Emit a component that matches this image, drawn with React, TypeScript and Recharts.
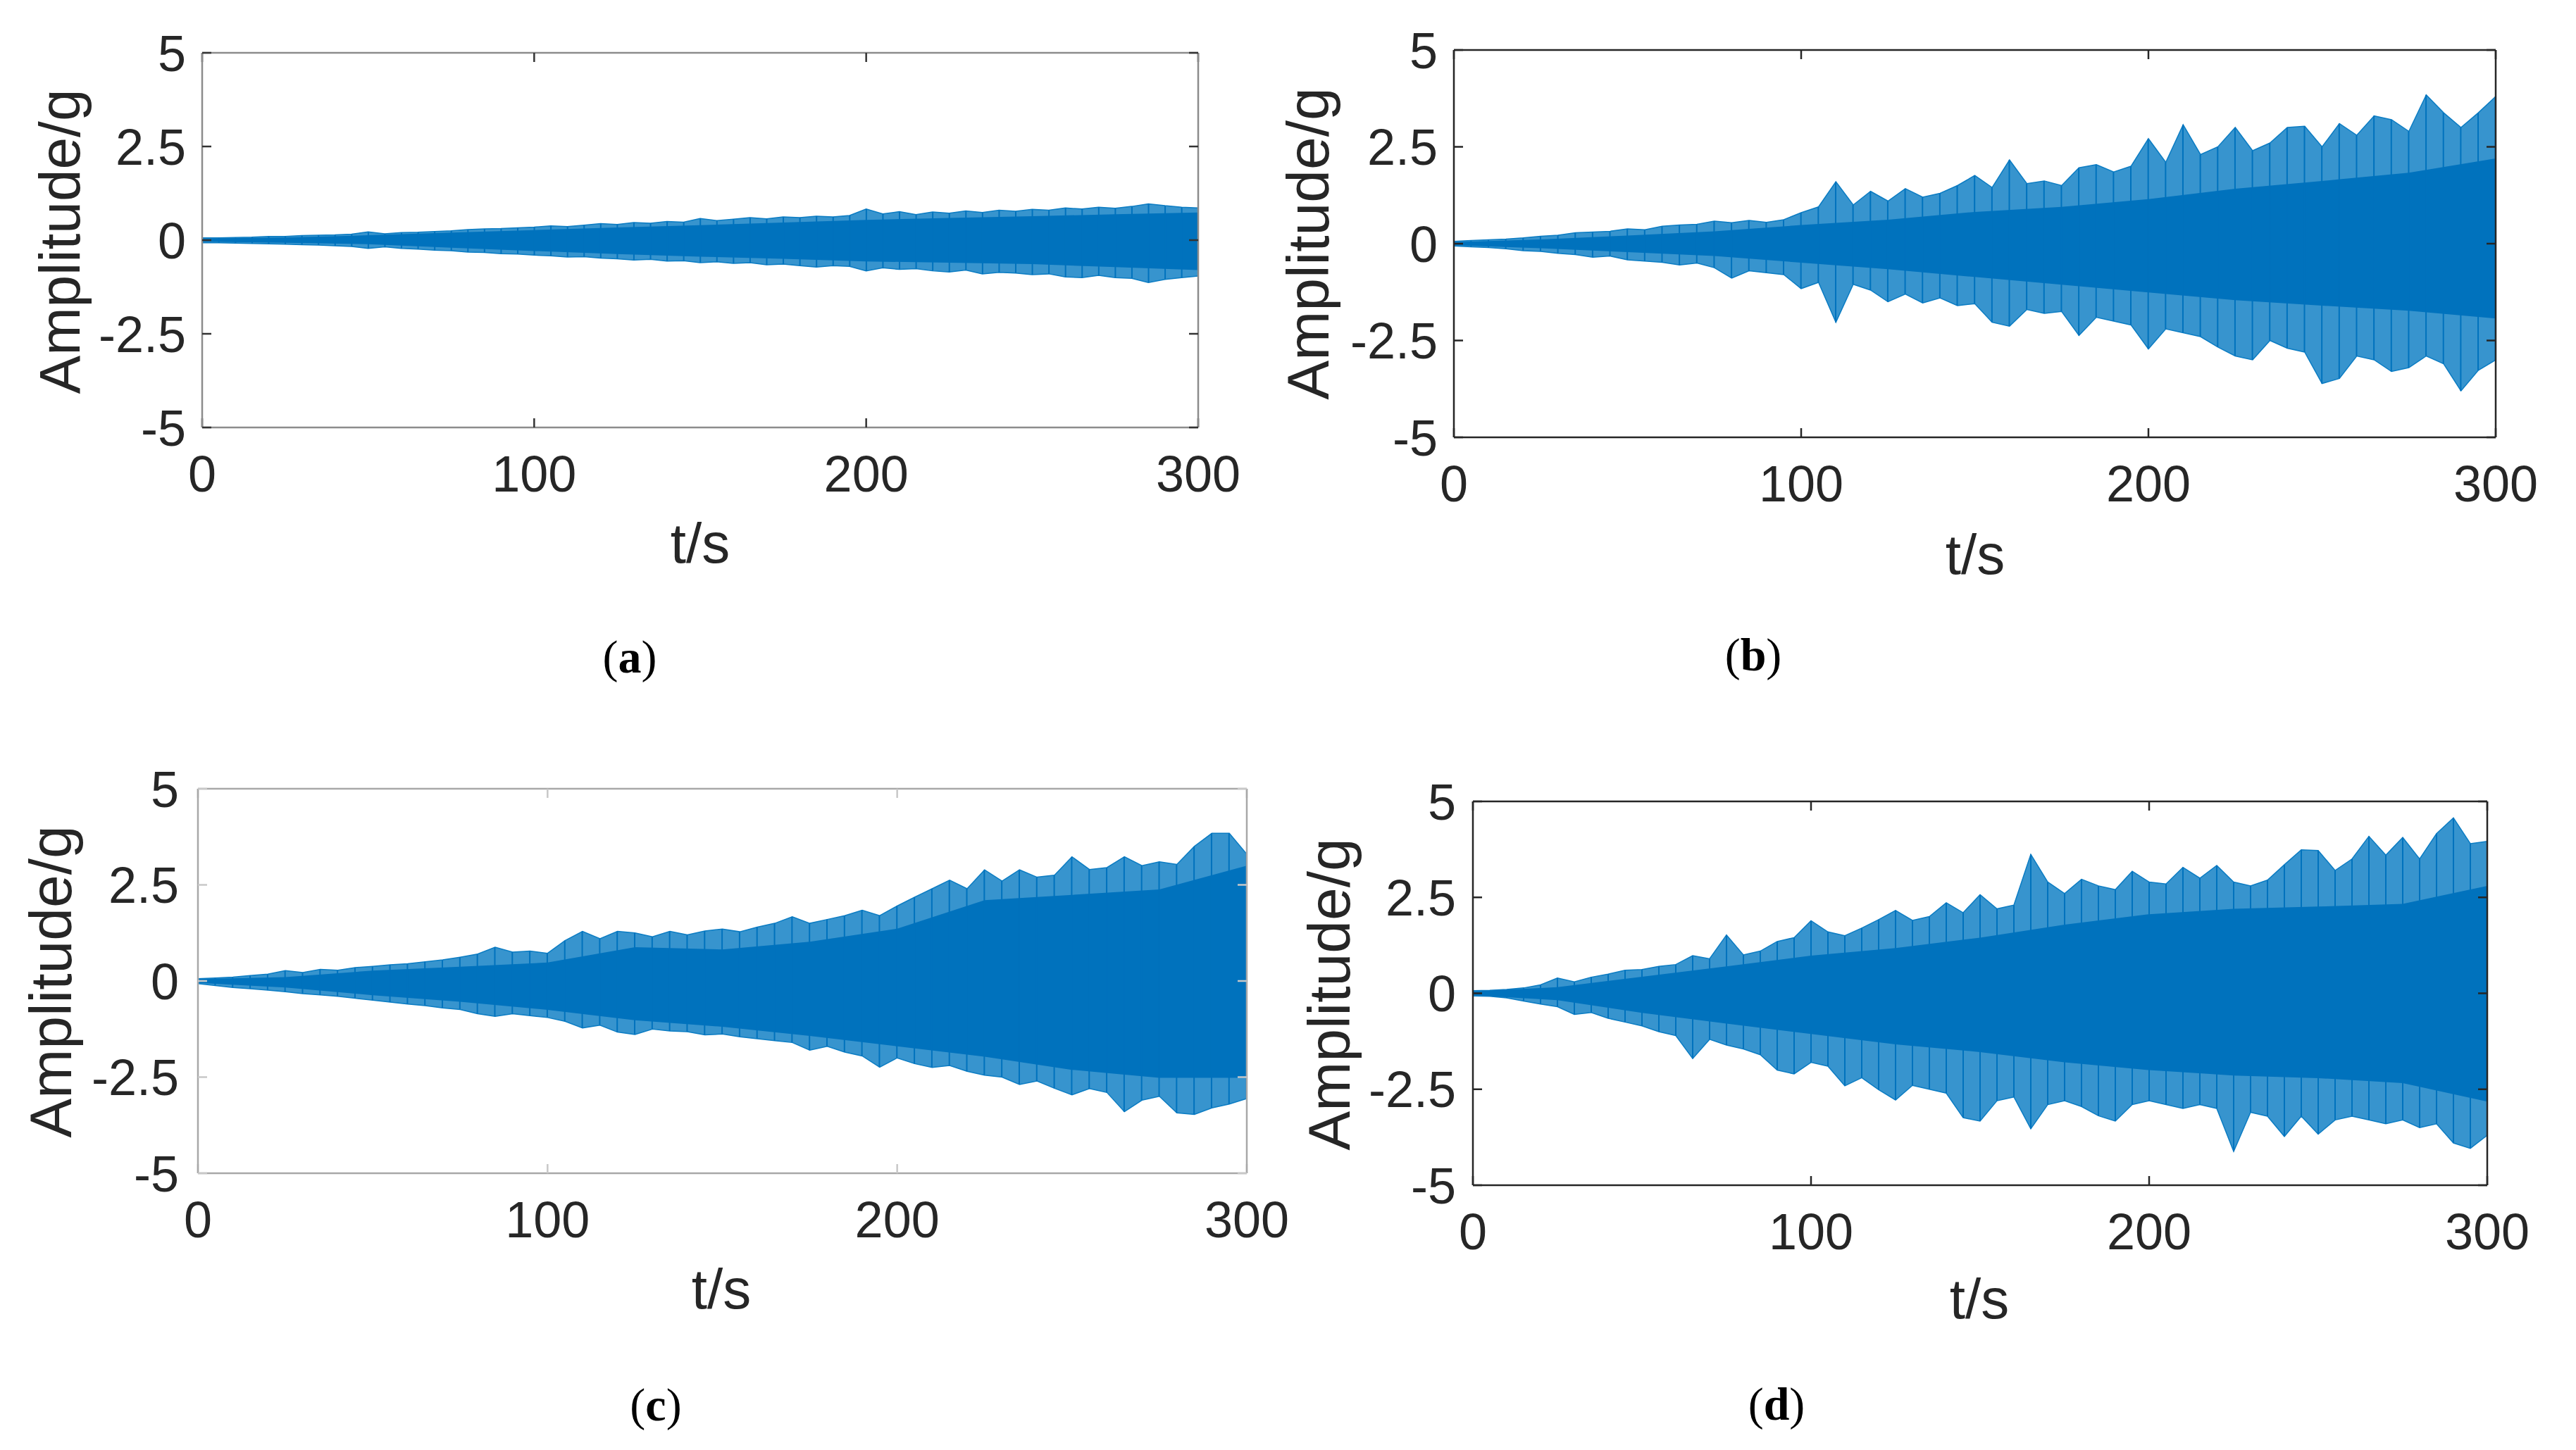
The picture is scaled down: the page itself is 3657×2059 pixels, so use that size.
import React from "react";
import { ComposedChart, Area, Bar, XAxis, YAxis } from "recharts";

// time grid (s): envelope every 25 s, peak spikes every 5 s
const T_CORE = [0, 25, 50, 75, 100, 125, 150, 175, 200, 225, 250, 275, 300];
const T_SPIKE = [
  0, 5, 10, 15, 20, 25, 30, 35, 40, 45, 50, 55, 60, 65, 70, 75, 80, 85, 90, 95,
  100, 105, 110, 115, 120, 125, 130, 135, 140, 145, 150, 155, 160, 165, 170, 175,
  180, 185, 190, 195, 200, 205, 210, 215, 220, 225, 230, 235, 240, 245, 250, 255,
  260, 265, 270, 275, 280, 285, 290, 295, 300,
];
const X_TICKS = [0, 100, 200, 300];
const Y_TICKS = [-5, -2.5, 0, 2.5, 5];

// (a)
const A_CORE_HI = [0.04, 0.07, 0.13, 0.2, 0.27, 0.34, 0.4, 0.47, 0.54, 0.59, 0.64, 0.69, 0.74];
const A_CORE_LO = [-0.04, -0.07, -0.11, -0.2, -0.29, -0.37, -0.44, -0.5, -0.57, -0.6, -0.64, -0.72, -0.8];
const A_SPIKE_HI = [
  0.06, 0.06, 0.07, 0.08, 0.1, 0.1, 0.12, 0.13, 0.14, 0.16,
  0.22, 0.17, 0.2, 0.21, 0.23, 0.25, 0.28, 0.3, 0.31, 0.33,
  0.35, 0.38, 0.36, 0.4, 0.44, 0.42, 0.47, 0.45, 0.5, 0.48,
  0.58, 0.52, 0.56, 0.6, 0.57, 0.62, 0.6, 0.64, 0.62, 0.66,
  0.83, 0.7, 0.76, 0.68, 0.75, 0.72, 0.78, 0.74, 0.8, 0.77,
  0.82, 0.8, 0.86, 0.83, 0.88, 0.85, 0.9, 0.97, 0.92, 0.88, 0.86,
];
const A_SPIKE_LO = [
  -0.07, -0.07, -0.08, -0.09, -0.1, -0.11, -0.12, -0.13, -0.15, -0.17,
  -0.22, -0.18, -0.22, -0.24, -0.27, -0.28, -0.32, -0.33, -0.36, -0.37,
  -0.4, -0.42, -0.45, -0.44, -0.48, -0.5, -0.53, -0.51, -0.56, -0.55,
  -0.6, -0.58, -0.62, -0.6, -0.66, -0.64, -0.68, -0.72, -0.68, -0.7,
  -0.82, -0.74, -0.78, -0.76, -0.82, -0.85, -0.8, -0.9, -0.86, -0.88,
  -0.92, -0.9, -0.98, -1.0, -0.94, -1.0, -1.02, -1.13, -1.05, -1.0, -0.96,
];

// (b)
const B_CORE_HI = [0.04, 0.11, 0.21, 0.32, 0.48, 0.62, 0.82, 0.95, 1.15, 1.42, 1.62, 1.83, 2.2];
const B_CORE_LO = [-0.04, -0.12, -0.22, -0.32, -0.49, -0.66, -0.86, -1.06, -1.26, -1.46, -1.6, -1.73, -1.93];
const B_SPIKE_HI = [
  0.06, 0.08, 0.1, 0.12, 0.15, 0.19, 0.22, 0.28, 0.3, 0.32,
  0.38, 0.36, 0.45, 0.48, 0.5, 0.58, 0.54, 0.6, 0.55, 0.62,
  0.8, 0.95, 1.6, 1.0, 1.35, 1.1, 1.42, 1.2, 1.3, 1.5,
  1.76, 1.45, 2.16, 1.55, 1.62, 1.5, 1.96, 2.04, 1.85, 2.0,
  2.71, 2.1, 3.07, 2.3, 2.5, 3.0, 2.4, 2.6, 3.0, 3.03,
  2.5, 3.1, 2.8, 3.3, 3.2, 2.9, 3.84, 3.38, 3.0, 3.38, 3.8,
];
const B_SPIKE_LO = [
  -0.06, -0.08, -0.1, -0.13, -0.18, -0.2, -0.25, -0.28, -0.35, -0.32,
  -0.42, -0.45, -0.48, -0.55, -0.5, -0.62, -0.89, -0.7, -0.75, -0.8,
  -1.16, -1.0, -2.03, -1.05, -1.2, -1.5, -1.3, -1.53, -1.4, -1.6,
  -1.55, -2.03, -2.13, -1.7, -1.8, -1.75, -2.37, -1.9, -2.0, -2.1,
  -2.72, -2.2, -2.3, -2.4, -2.67, -2.9, -3.0, -2.5, -2.7, -2.8,
  -3.61, -3.48, -2.9, -3.0, -3.3, -3.2, -2.9, -3.1, -3.8, -3.27, -3.0,
];

// (c)
const C_CORE_HI = [0.05, 0.1, 0.27, 0.37, 0.48, 0.88, 0.82, 1.02, 1.36, 2.1, 2.24, 2.38, 3.0];
const C_CORE_LO = [-0.05, -0.17, -0.37, -0.54, -0.75, -1.02, -1.19, -1.43, -1.7, -1.97, -2.31, -2.52, -2.52];
const C_SPIKE_HI = [
  0.06, 0.08, 0.1, 0.14, 0.18, 0.27, 0.22, 0.3, 0.28, 0.35,
  0.38, 0.42, 0.45, 0.5, 0.55, 0.62, 0.7, 0.88, 0.75, 0.78,
  0.72, 1.05, 1.29, 1.1, 1.29, 1.25, 1.15, 1.29, 1.2, 1.3,
  1.35, 1.28, 1.4, 1.5, 1.67, 1.5, 1.6, 1.7, 1.84, 1.7,
  1.95, 2.18, 2.4, 2.62, 2.4, 2.89, 2.6, 2.89, 2.7, 2.75,
  3.23, 2.9, 2.95, 3.23, 3.0, 3.1, 3.03, 3.5, 3.84, 3.84, 3.3,
];
const C_SPIKE_LO = [
  -0.07, -0.12, -0.17, -0.2, -0.24, -0.28, -0.33, -0.36, -0.4, -0.45,
  -0.5, -0.55, -0.6, -0.64, -0.7, -0.74, -0.85, -0.92, -0.85, -0.9,
  -0.95, -1.05, -1.22, -1.15, -1.33, -1.39, -1.25, -1.3, -1.32, -1.4,
  -1.38, -1.45, -1.5, -1.55, -1.6, -1.8, -1.7, -1.85, -1.95, -2.24,
  -2.0, -2.15, -2.25, -2.2, -2.35, -2.45, -2.5, -2.69, -2.6, -2.79,
  -2.96, -2.8, -2.9, -3.4, -3.1, -3.0, -3.43, -3.47, -3.3, -3.2, -3.06,
];

// (d)
const D_CORE_HI = [0.05, 0.16, 0.43, 0.7, 0.98, 1.18, 1.45, 1.79, 2.06, 2.2, 2.26, 2.33, 2.8];
const D_CORE_LO = [-0.05, -0.18, -0.51, -0.79, -1.06, -1.33, -1.53, -1.8, -2.0, -2.14, -2.21, -2.34, -2.82];
const D_SPIKE_HI = [
  0.07, 0.08, 0.1, 0.14, 0.22, 0.4, 0.3, 0.42, 0.5, 0.6,
  0.62, 0.7, 0.75, 0.98, 0.9, 1.52, 1.0, 1.1, 1.35, 1.45,
  1.89, 1.6, 1.5, 1.7, 1.92, 2.16, 1.9, 2.0, 2.36, 2.1,
  2.57, 2.2, 2.3, 3.62, 2.9, 2.6, 2.97, 2.8, 2.7, 3.18,
  2.9, 2.85, 3.28, 3.0, 3.33, 2.9, 2.8, 2.95, 3.35, 3.74,
  3.72, 3.2, 3.5, 4.09, 3.6, 4.06, 3.5, 4.16, 4.57, 3.9, 3.96,
];
const D_SPIKE_LO = [
  -0.07, -0.08, -0.12, -0.2, -0.28, -0.35, -0.55, -0.5, -0.65, -0.75,
  -0.85, -1.0, -1.1, -1.7, -1.2, -1.35, -1.45, -1.6, -2.0, -2.1,
  -1.8, -1.9, -2.41, -2.2, -2.51, -2.78, -2.4, -2.5, -2.6, -3.24,
  -3.33, -2.8, -2.7, -3.53, -2.9, -2.8, -2.95, -3.19, -3.33, -2.9,
  -2.8, -2.9, -3.0, -2.9, -3.0, -4.12, -3.1, -3.2, -3.73, -3.2,
  -3.67, -3.3, -3.2, -3.3, -3.4, -3.3, -3.5, -3.4, -3.9, -4.04, -3.7,
];

const SIGNAL = "#0072BD";
const FRINGE = "#0b7cc3";
const TEXT = "#262626";
const FONT = "'Liberation Sans', Arial, Helvetica, sans-serif";
const SERIF = "'Liberation Serif', 'Times New Roman', serif";

// chart frame around each plot box
const YW = 200;
const MT = 60;
const MR = 90;
const XH = 130;

const PANELS = [
  {
    id: "a",
    box: { x: 287, y: 75, w: 1414, h: 532 },
    coreHi: A_CORE_HI, coreLo: A_CORE_LO, spikeHi: A_SPIKE_HI, spikeLo: A_SPIKE_LO,
    axis: "#8c8c8c", tickColor: "#333333", yGap: 23,
    yLabel: { x: 85, y: 343, fs: 82 }, xLabel: { x: 994, y: 772 }, cap: { x: 894, y: 933 },
  },
  {
    id: "b",
    box: { x: 2064, y: 71, w: 1479, h: 550 },
    coreHi: B_CORE_HI, coreLo: B_CORE_LO, spikeHi: B_SPIKE_HI, spikeLo: B_SPIKE_LO,
    axis: "#262626", tickColor: "#262626", yGap: 23,
    yLabel: { x: 1857, y: 346, fs: 84 }, xLabel: { x: 2804, y: 788 }, cap: { x: 2489, y: 930 },
  },
  {
    id: "c",
    box: { x: 281, y: 1120, w: 1489, h: 546 },
    coreHi: C_CORE_HI, coreLo: C_CORE_LO, spikeHi: C_SPIKE_HI, spikeLo: C_SPIKE_LO,
    axis: "#a8a8a8", tickColor: "#c8c8c8", yGap: 27,
    yLabel: { x: 72, y: 1394, fs: 84 }, xLabel: { x: 1024, y: 1831 }, cap: { x: 931, y: 1995 },
  },
  {
    id: "d",
    box: { x: 2091, y: 1138, w: 1440, h: 545 },
    coreHi: D_CORE_HI, coreLo: D_CORE_LO, spikeHi: D_SPIKE_HI, spikeLo: D_SPIKE_LO,
    axis: "#262626", tickColor: "#262626", yGap: 24,
    yLabel: { x: 1887, y: 1412, fs: 84 }, xLabel: { x: 2810, y: 1845 }, cap: { x: 2522, y: 1994 },
  },
];

function Panel({ p }: { p: (typeof PANELS)[number] }) {
  const core = T_CORE.map((t, i) => ({ t, core: [p.coreLo[i], p.coreHi[i]] }));
  const spikes = T_SPIKE.map((t, i) => ({ t, spike: [p.spikeLo[i], p.spikeHi[i]] }));
  const w = YW + p.box.w + 1 + MR;
  const h = MT + 1 + p.box.h + XH;
  const line = { stroke: p.axis, strokeWidth: 2.5 };
  const tl = { stroke: p.tickColor, strokeWidth: 2.5 };
  const tickText = { fill: TEXT, fontSize: 72, fontFamily: FONT };
  const blank = () => "";

  return (
    <>
      <div style={{ position: "absolute", left: p.box.x - YW, top: p.box.y - MT - 1 }}>
        <ComposedChart
          width={w}
          height={h}
          data={spikes}
          margin={{ top: MT, right: MR, left: 0, bottom: 0 }}
        >
          <XAxis
            xAxisId="bottom"
            dataKey="t"
            type="number"
            domain={[0, 300]}
            ticks={X_TICKS}
            interval={0}
            height={XH}
            axisLine={line}
            tickLine={tl}
            tickSize={-13}
            tickMargin={53}
            tick={tickText}
            allowDataOverflow
          />
          <XAxis
            xAxisId="top"
            orientation="top"
            dataKey="t"
            type="number"
            domain={[0, 300]}
            ticks={X_TICKS}
            interval={0}
            height={1}
            axisLine={line}
            tickLine={tl}
            tickSize={-13}
            tickFormatter={blank}
            allowDataOverflow
          />
          <YAxis
            yAxisId="left"
            type="number"
            domain={[-5, 5]}
            ticks={Y_TICKS}
            interval={0}
            width={YW}
            axisLine={line}
            tickLine={tl}
            tickSize={-13}
            tickMargin={13 + p.yGap}
            tick={tickText}
            allowDataOverflow
          />
          <YAxis
            yAxisId="right"
            orientation="right"
            type="number"
            domain={[-5, 5]}
            ticks={Y_TICKS}
            interval={0}
            width={1}
            axisLine={line}
            tickLine={tl}
            tickSize={-13}
            tickFormatter={blank}
            allowDataOverflow
          />
          {/* ragged fringe of peaks */}
          <Area
            xAxisId="bottom"
            yAxisId="left"
            dataKey="spike"
            type="linear"
            stroke={FRINGE}
            strokeWidth={1.5}
            fill={FRINGE}
            fillOpacity={0.82}
            dot={false}
            activeDot={false}
            isAnimationActive={false}
          />
          <Bar
            xAxisId="bottom"
            yAxisId="left"
            dataKey="spike"
            barSize={2}
            fill={SIGNAL}
            isAnimationActive={false}
          />
          {/* dense core of the signal */}
          <Area
            xAxisId="bottom"
            yAxisId="left"
            data={core}
            dataKey="core"
            type="linear"
            stroke="none"
            fill={SIGNAL}
            fillOpacity={1}
            dot={false}
            activeDot={false}
            isAnimationActive={false}
          />
        </ComposedChart>
      </div>
      <div
        style={{
          position: "absolute",
          left: p.yLabel.x,
          top: p.yLabel.y,
          transform: "translate(-50%, -50%) rotate(-90deg)",
          fontFamily: FONT,
          fontSize: p.yLabel.fs,
          lineHeight: 1,
          whiteSpace: "nowrap",
          color: TEXT,
        }}
      >
        Amplitude/g
      </div>
      <div
        style={{
          position: "absolute",
          left: p.xLabel.x,
          top: p.xLabel.y,
          transform: "translate(-50%, -50%)",
          fontFamily: FONT,
          fontSize: 80,
          lineHeight: 1,
          whiteSpace: "nowrap",
          color: TEXT,
        }}
      >
        t/s
      </div>
      <div
        style={{
          position: "absolute",
          left: p.cap.x,
          top: p.cap.y,
          transform: "translate(-50%, -50%)",
          fontFamily: SERIF,
          fontSize: 66,
          lineHeight: 1,
          whiteSpace: "nowrap",
          color: "#000",
        }}
      >
        (<b>{p.id}</b>)
      </div>
    </>
  );
}

export default function App() {
  return (
    <div
      style={{
        position: "absolute",
        left: 0,
        top: 0,
        width: 3657,
        height: 2059,
        background: "#fff",
        overflow: "hidden",
      }}
    >
      {PANELS.map((p) => (
        <Panel key={p.id} p={p} />
      ))}
    </div>
  );
}
